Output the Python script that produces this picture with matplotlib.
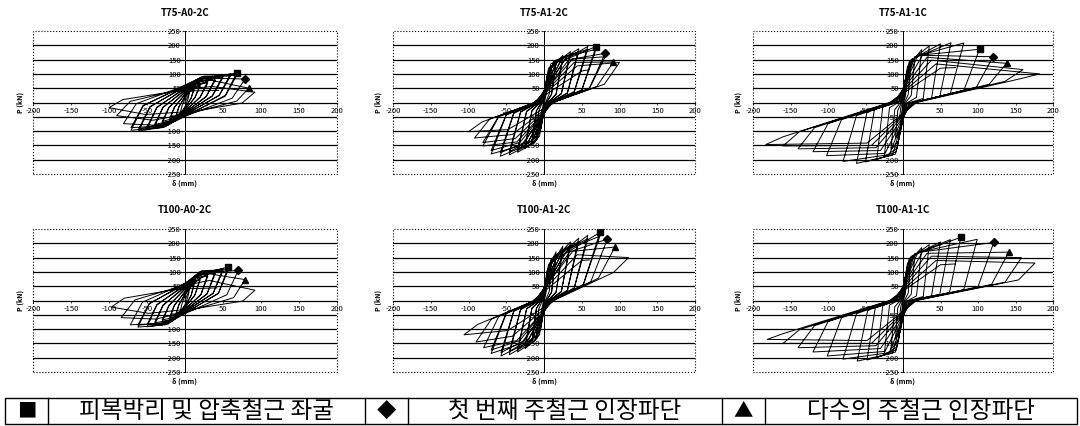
import matplotlib
matplotlib.use("Agg")
import matplotlib.pyplot as plt
from matplotlib.patches import Rectangle

plt.rcParams['font.family'] = ['Noto Sans CJK KR', 'DejaVu Sans']
plt.rcParams['axes.unicode_minus'] = False

# hysteresis traces, (delta mm, P kN), one cycle per line
t75_a0_2c = [
    (0, 0),
    (6, 35), (4, 12), (0, -14), (-3, -28), (-6, -34), (-4, -12), (0, 14), (3, 28),
    (12, 50), (8, 16), (0, -20), (-6, -40), (-12, -50), (-8, -16), (0, 22), (6, 42),
    (12, 46), (8, 14), (0, -18), (-6, -37), (-12, -46), (-8, -14), (0, 20), (6, 38),
    (20, 62), (13, 18), (0, -26), (-10, -50), (-20, -60), (-14, -18), (0, 30), (10, 54),
    (20, 57), (13, 16), (0, -24), (-10, -46), (-20, -55), (-14, -16), (0, 28), (10, 50),
    (30, 74), (20, 20), (0, -32), (-14, -60), (-30, -72), (-21, -18), (0, 38), (14, 65),
    (30, 68), (20, 18), (0, -30), (-14, -55), (-30, -66), (-21, -16), (0, 35), (14, 60),
    (40, 85), (28, 22), (0, -36), (-18, -70), (-40, -84), (-29, -18), (0, 45), (17, 76),
    (40, 78), (28, 20), (0, -34), (-18, -64), (-40, -77), (-29, -16), (0, 42), (17, 70),
    (50, 94), (36, 24), (0, -40), (-22, -78), (-50, -93), (-37, -18), (0, 52), (19, 84),
    (50, 87), (36, 22), (0, -38), (-22, -72), (-50, -86), (-37, -16), (0, 48), (19, 78),
    (60, 100), (45, 26), (0, -44), (-26, -85), (-61, -100), (-46, -16), (0, 58), (22, 90),
    (60, 93), (45, 24), (0, -42), (-26, -79), (-61, -92), (-46, -14), (0, 54), (22, 84),
    (68, 103), (53, 25), (3, -45), (-30, -88), (-71, -97), (-55, -12), (-1, 60), (25, 92),
    (68, 95), (53, 22), (3, -43), (-30, -82), (-71, -88), (-55, -10), (-1, 56), (25, 86),
    (79, 82), (62, 15), (6, -42), (-35, -80), (-81, -74), (-64, -4), (-3, 56), (30, 80),
    (84, 50), (68, 5), (10, -36), (-42, -62), (-90, -46), (-72, 4), (-6, 46), (36, 56),
    (92, 36), (75, -2), (14, -30), (-52, -42), (-100, -18), (-82, 10), (-12, 40), (44, 42),
]
t75_a1_2c = [
    (0, 0),
    (5, 80), (3, 30), (0, -5), (-2, -50), (-5, -80), (-3, -30), (0, 5), (2, 50),
    (10, 125), (7, 30), (1, -6), (-4, -90), (-10, -120), (-7, -30), (-1, 6), (4, 92),
    (16, 148), (10, 30), (2, -6), (-6, -118), (-16, -140), (-10, -30), (-2, 6), (6, 120),
    (16, 140), (10, 28), (2, -6), (-7, -110), (-16, -132), (-10, -28), (-2, 6), (7, 112),
    (25, 165), (16, 30), (3, -6), (-9, -130), (-25, -160), (-16, -30), (-3, 6), (9, 135),
    (25, 156), (16, 28), (3, -6), (-10, -120), (-25, -150), (-16, -28), (-3, 6), (10, 125),
    (35, 178), (23, 32), (4, -6), (-12, -140), (-35, -174), (-23, -32), (-4, 6), (13, 145),
    (35, 168), (23, 30), (4, -6), (-14, -130), (-35, -164), (-23, -30), (-4, 6), (15, 135),
    (46, 188), (31, 34), (6, -4), (-18, -145), (-46, -183), (-31, -34), (-6, 4), (19, 150),
    (46, 178), (31, 32), (6, -4), (-20, -135), (-46, -172), (-31, -32), (-6, 4), (21, 140),
    (58, 196), (40, 38), (8, -3), (-24, -150), (-58, -188), (-40, -38), (-8, 3), (25, 158),
    (58, 186), (40, 36), (8, -3), (-26, -140), (-58, -176), (-40, -36), (-8, 3), (27, 148),
    (69, 196), (50, 44), (10, -2), (-30, -150), (-70, -180), (-50, -44), (-10, 2), (31, 162),
    (69, 186), (50, 42), (10, -2), (-32, -140), (-70, -168), (-50, -42), (-10, 2), (33, 150),
    (81, 172), (60, 50), (12, 0), (-36, -138), (-81, -152), (-60, -50), (-12, 0), (38, 152),
    (81, 160), (60, 48), (12, 0), (-38, -126), (-81, -140), (-60, -48), (-12, 0), (40, 140),
    (92, 142), (70, 56), (14, 2), (-42, -112), (-92, -124), (-72, -58), (-14, -2), (44, 128),
    (100, 140), (80, 64), (16, 4), (-48, -95), (-100, -102), (-82, -68), (-16, -4), (50, 110), (60, 115),
]
t75_a1_1c = [
    (0, 0),
    (5, 60), (3, 20), (0, -4), (-2, -40), (-5, -60), (-3, -20), (0, 4), (2, 40),
    (10, 120), (7, 28), (1, -5), (-4, -95), (-10, -125), (-7, -28), (-1, 5), (4, 90),
    (16, 160), (11, 25), (2, -5), (-6, -135), (-16, -165), (-11, -25), (-2, 5), (6, 125),
    (25, 185), (18, 18), (3, -5), (-8, -160), (-25, -190), (-18, -18), (-3, 5), (8, 140),
    (35, 198), (27, 14), (4, -4), (-9, -172), (-35, -200), (-27, -16), (-4, 4), (10, 148),
    (50, 205), (38, 14), (5, -4), (-10, -180), (-50, -208), (-38, -24), (-5, 4), (12, 152),
    (64, 209), (49, 20), (6, -3), (-14, -184), (-62, -213), (-48, -34), (-6, 3), (16, 160),
    (81, 208), (63, 30), (8, -3), (-18, -182), (-80, -206), (-62, -46), (-8, 3), (20, 165),
    (102, 186), (81, 42), (10, -2), (-24, -178), (-102, -186), (-82, -60), (-10, 2), (26, 165),
    (120, 160), (98, 54), (12, -2), (-30, -168), (-120, -172), (-100, -74), (-12, 2), (32, 158),
    (138, 137), (115, 64), (14, -1), (-36, -158), (-140, -162), (-118, -88), (-14, 1), (38, 148),
    (160, 115), (136, 74), (16, 0), (-42, -150), (-160, -152), (-138, -102), (-16, 0), (44, 135),
    (182, 100), (158, 84), (18, 0), (-48, -142), (-183, -147), (-160, -120), (-18, 0), (50, 120), (70, 122),
]
t100_a0_2c = [
    (0, 0),
    (6, 40), (4, 14), (0, -14), (-3, -28), (-6, -34), (-4, -12), (0, 16), (3, 32),
    (12, 60), (8, 18), (0, -20), (-6, -40), (-12, -50), (-8, -16), (0, 24), (6, 50),
    (12, 55), (8, 16), (0, -18), (-6, -37), (-12, -46), (-8, -14), (0, 22), (6, 46),
    (20, 78), (13, 20), (0, -26), (-10, -52), (-20, -62), (-14, -18), (0, 32), (10, 66),
    (20, 72), (13, 18), (0, -24), (-10, -48), (-20, -57), (-14, -16), (0, 30), (10, 61),
    (30, 92), (21, 22), (0, -32), (-14, -64), (-30, -74), (-21, -18), (0, 42), (14, 80),
    (30, 85), (21, 20), (0, -30), (-14, -59), (-30, -68), (-21, -16), (0, 39), (14, 74),
    (40, 103), (29, 24), (0, -36), (-18, -74), (-40, -85), (-29, -18), (0, 50), (17, 92),
    (40, 95), (29, 22), (0, -34), (-18, -68), (-40, -78), (-29, -16), (0, 46), (17, 85),
    (50, 112), (37, 26), (0, -40), (-22, -82), (-50, -92), (-37, -16), (0, 56), (19, 100),
    (50, 104), (37, 24), (0, -38), (-22, -76), (-50, -85), (-37, -14), (0, 52), (19, 93),
    (57, 117), (44, 26), (2, -42), (-26, -85), (-62, -93), (-47, -12), (0, 60), (22, 104),
    (57, 108), (44, 24), (2, -40), (-26, -79), (-62, -86), (-47, -10), (0, 56), (22, 97),
    (70, 105), (55, 20), (5, -40), (-30, -80), (-72, -85), (-56, -6), (-2, 58), (26, 96),
    (79, 73), (64, 10), (8, -35), (-38, -65), (-84, -60), (-66, 2), (-5, 50), (32, 70),
    (92, 36), (76, -2), (14, -28), (-48, -45), (-97, -23), (-80, 8), (-10, 40), (42, 44),
]
t100_a1_2c = [
    (0, 0),
    (5, 90), (3, 32), (0, -5), (-2, -55), (-5, -85), (-3, -30), (0, 5), (2, 55),
    (10, 140), (7, 32), (1, -6), (-4, -95), (-10, -125), (-7, -30), (-1, 6), (4, 105),
    (16, 170), (10, 30), (2, -6), (-6, -120), (-16, -150), (-10, -28), (-2, 6), (6, 125),
    (16, 160), (10, 28), (2, -6), (-7, -112), (-16, -141), (-10, -26), (-2, 6), (7, 116),
    (25, 190), (16, 30), (3, -6), (-9, -132), (-25, -168), (-16, -28), (-3, 6), (9, 142),
    (25, 180), (16, 28), (3, -6), (-10, -122), (-25, -158), (-16, -26), (-3, 6), (10, 132),
    (35, 205), (23, 32), (4, -6), (-12, -140), (-35, -180), (-23, -30), (-4, 6), (13, 152),
    (35, 194), (23, 30), (4, -6), (-14, -130), (-35, -170), (-23, -28), (-4, 6), (15, 142),
    (46, 218), (31, 36), (6, -4), (-18, -146), (-46, -190), (-31, -32), (-6, 4), (19, 162),
    (46, 206), (31, 34), (6, -4), (-20, -136), (-46, -179), (-31, -30), (-6, 4), (21, 152),
    (58, 228), (40, 44), (8, -3), (-24, -150), (-57, -194), (-40, -38), (-8, 3), (25, 172),
    (58, 216), (40, 42), (8, -3), (-26, -140), (-57, -182), (-40, -36), (-8, 3), (27, 162),
    (74, 238), (52, 56), (10, -2), (-30, -150), (-70, -185), (-50, -46), (-10, 2), (32, 180),
    (74, 225), (52, 54), (10, -2), (-32, -140), (-70, -173), (-50, -44), (-10, 2), (34, 170),
    (84, 215), (62, 66), (12, 0), (-36, -140), (-80, -165), (-60, -56), (-12, 0), (38, 172),
    (94, 187), (72, 78), (14, 2), (-42, -125), (-90, -145), (-70, -66), (-14, -2), (44, 160),
    (112, 150), (92, 98), (16, 4), (-48, -105), (-106, -120), (-88, -84), (-16, -4), (50, 140), (60, 142),
]
t100_a1_1c = [
    (0, 0),
    (5, 70), (3, 22), (0, -4), (-2, -45), (-5, -70), (-3, -22), (0, 4), (2, 45),
    (10, 130), (7, 26), (1, -5), (-4, -100), (-10, -135), (-7, -26), (-1, 5), (4, 98),
    (16, 165), (11, 22), (2, -5), (-6, -140), (-16, -170), (-11, -22), (-2, 5), (6, 130),
    (25, 185), (18, 16), (3, -5), (-8, -162), (-25, -190), (-18, -16), (-3, 5), (8, 145),
    (35, 195), (27, 14), (4, -4), (-9, -172), (-35, -200), (-27, -18), (-4, 4), (10, 152),
    (50, 205), (38, 16), (5, -4), (-10, -180), (-48, -208), (-37, -26), (-5, 4), (12, 156),
    (63, 213), (49, 22), (6, -3), (-14, -184), (-61, -212), (-47, -34), (-6, 3), (16, 162),
    (77, 221), (62, 28), (8, -3), (-18, -182), (-80, -205), (-62, -46), (-8, 3), (20, 168),
    (99, 214), (81, 38), (10, -2), (-24, -178), (-101, -194), (-82, -60), (-10, 2), (26, 170),
    (121, 203), (100, 48), (12, -2), (-30, -168), (-120, -180), (-100, -74), (-12, 2), (32, 165),
    (141, 169), (118, 56), (14, -1), (-36, -158), (-140, -165), (-118, -88), (-14, 1), (38, 155),
    (158, 150), (136, 64), (16, 0), (-42, -150), (-160, -150), (-138, -102), (-16, 0), (44, 140),
    (176, 131), (154, 72), (18, 0), (-48, -140), (-181, -136), (-160, -116), (-18, 0), (50, 125), (70, 128),
]

# failure events: cover spalling / first bar fracture / multiple bar fracture
marks_t75_a0_2c = [(68, 103), (79, 82), (84, 50)]
marks_t75_a1_2c = [(69, 194), (81, 172), (92, 140)]
marks_t75_a1_1c = [(102, 186), (120, 160), (138, 137)]
marks_t100_a0_2c = [(57, 117), (70, 105), (79, 73)]
marks_t100_a1_2c = [(74, 238), (84, 215), (94, 187)]
marks_t100_a1_1c = [(77, 221), (121, 203), (141, 169)]

titles = ["T75-A0-2C", "T75-A1-2C", "T75-A1-1C", "T100-A0-2C", "T100-A1-2C", "T100-A1-1C"]
traces = [t75_a0_2c, t75_a1_2c, t75_a1_1c, t100_a0_2c, t100_a1_2c, t100_a1_1c]
marks = [marks_t75_a0_2c, marks_t75_a1_2c, marks_t75_a1_1c,
         marks_t100_a0_2c, marks_t100_a1_2c, marks_t100_a1_1c]
xticks = [-200, -150, -100, -50, 50, 100, 150, 200]
yticks = [-250, -200, -150, -100, -50, 50, 100, 150, 200, 250]
legend_symbols = ["■", "◆", "▲"]
legend_texts = ["피복박리 및 압축철근 좌굴", "첫 번째 주철근 인장파단", "다수의 주철근 인장파단"]
marker_styles = ["s", "D", "^"]

W, H = 1080, 426
fig = plt.figure(figsize=(W / 100, H / 100), dpi=100)

lefts = [33, 393, 753]
widths = [304, 302, 300]
tops = [31, 229]
ah = 143
title_y = [13, 210]
xlab_y = [183, 381]
ylab_x = [20, 378, 738]

for i in range(6):
    r, c = divmod(i, 3)
    ax = fig.add_axes([lefts[c] / W, 1 - (tops[r] + ah) / H, widths[c] / W, ah / H])
    ax.set_xlim(-200, 200)
    ax.set_ylim(-250, 250)
    for y in yticks[1:-1]:
        ax.axhline(y, color="black", lw=0.9, zorder=1)
    d, p = zip(*traces[i])
    ax.plot(d, p, color="black", lw=0.7, zorder=3)
    for (md, mp), ms in zip(marks[i], marker_styles):
        ax.plot(md, mp, marker=ms, color="black", ms=4.5, zorder=4)
    ax.spines["left"].set_position(("data", 0))
    ax.spines["bottom"].set_position(("data", 0))
    ax.spines["left"].set_linewidth(0.7)
    ax.spines["bottom"].set_linewidth(0.9)
    ax.spines["top"].set_visible(False)
    ax.spines["right"].set_visible(False)
    ax.add_patch(Rectangle((0, 0), 1, 1, transform=ax.transAxes, fill=False,
                           ls=":", lw=0.8, ec="black", clip_on=False, zorder=2))
    ax.set_xticks(xticks)
    ax.set_yticks(yticks)
    ax.tick_params(labelsize=5.5, length=1.5, width=0.5, pad=1.5)
    ax.set_facecolor("none")
    cx = (lefts[c] + widths[c] / 2) / W
    fig.text(cx, 1 - title_y[r] / H, titles[i], ha="center", va="center",
             fontsize=7, fontweight="bold")
    fig.text(cx, 1 - xlab_y[r] / H, "δ (mm)", ha="center", va="center",
             fontsize=5, fontweight="bold")
    fig.text(ylab_x[c] / W, 1 - (tops[r] + ah / 2) / H, "P (kN)", ha="center",
             va="center", rotation=90, fontsize=5, fontweight="bold")

# legend table at the bottom
lax = fig.add_axes([0, 0, 1, 1])
lax.set_xlim(0, W)
lax.set_ylim(H, 0)
lax.axis("off")
t_top, t_bot = 398, 424
cells = [5, 48, 365, 408, 722, 765, 1077]
lax.add_patch(Rectangle((cells[0], t_top), cells[-1] - cells[0], t_bot - t_top,
                        fill=False, ec="black", lw=1.0))
for x in cells[1:-1]:
    lax.plot([x, x], [t_top, t_bot], color="black", lw=1.0)
ym = (t_top + t_bot) / 2
for k in range(3):
    xs = (cells[2 * k] + cells[2 * k + 1]) / 2
    xt = (cells[2 * k + 1] + cells[2 * k + 2]) / 2
    lax.text(xs, ym, legend_symbols[k], ha="center", va="center", fontsize=14)
    lax.text(xt, ym, legend_texts[k], ha="center", va="center", fontsize=17)

fig.savefig("out.png", dpi=100)
